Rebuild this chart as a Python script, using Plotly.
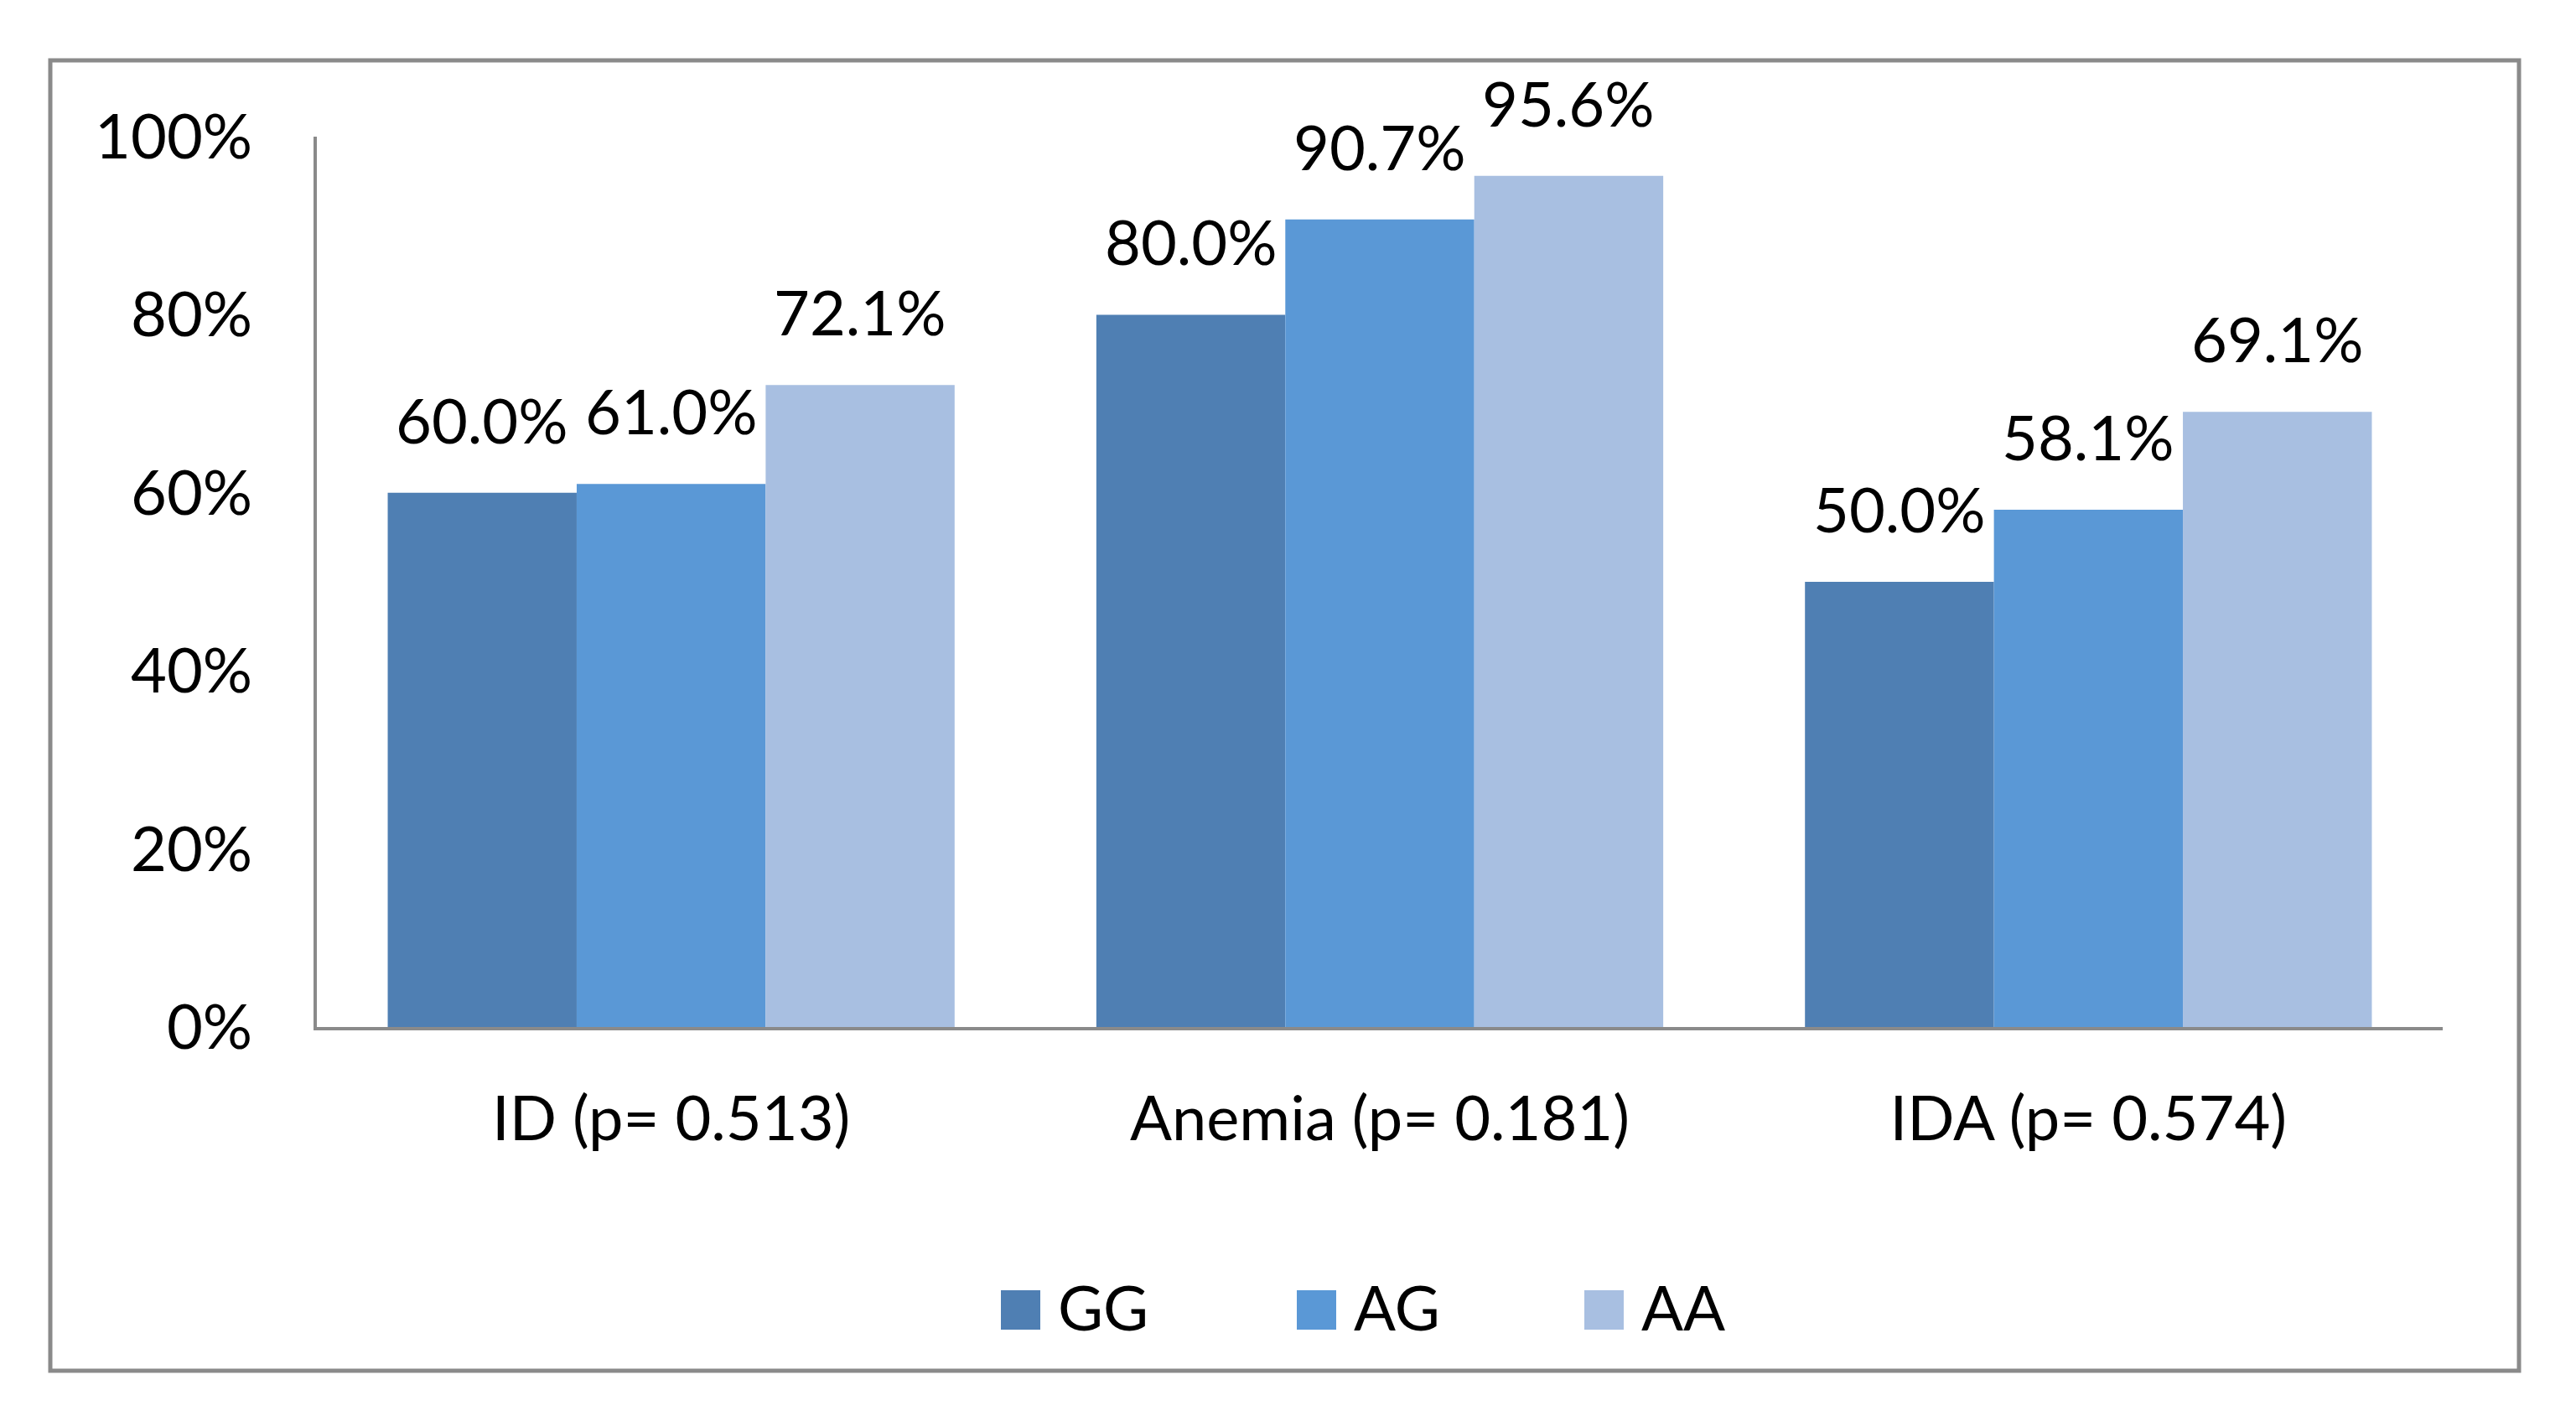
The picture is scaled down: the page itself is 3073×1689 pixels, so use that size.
import plotly.graph_objects as go

categories = ["ID (p= 0.513)", "Anemia (p= 0.181)", "IDA (p= 0.574)"]
series_names = ["GG", "AG", "AA"]
gg_values = [0.600, 0.800, 0.500]
ag_values = [0.610, 0.907, 0.581]
aa_values = [0.721, 0.956, 0.691]
y_tick_vals = [0, 0.2, 0.4, 0.6, 0.8, 1.0]
y_tick_text = ["0%", "20%", "40%", "60%", "80%", "100%"]

colors = ["#4F7FB3", "#5A98D6", "#A8BFE1"]
series_values = [gg_values, ag_values, aa_values]

W, H = 3073, 1689
ml, mr, mt, mb = 378, 159, 163, 464
pw, ph = W - ml - mr, H - mt - mb
FONT = "Lato, 'Open Sans', sans-serif"
FS = 74
bargap = 0.2

def px_x(x):
    return (x - ml) / pw

def px_y(y):
    return (H - mb - y) / ph

fig = go.Figure()
for name, vals, col in zip(series_names, series_values, colors):
    fig.add_trace(go.Bar(x=categories, y=vals, name=name, marker=dict(color=col, line=dict(width=0)),
                         showlegend=False))

# data labels
bw = (1 - bargap) / len(series_names)
annotations = []
for j, vals in enumerate(series_values):
    off = (j - (len(series_names) - 1) / 2) * bw
    for i, v in enumerate(vals):
        annotations.append(dict(x=i + off, y=v, xref="x", yref="y", text=f"{v*100:.1f}%",
                                showarrow=False, yanchor="bottom", xanchor="center", yshift=41,
                                font=dict(family=FONT, size=FS, color="#000000")))

# manual legend
legend_y0, legend_y1 = 1539, 1586
legend_sq_x = [1194, 1547, 1890]
shapes = [dict(type="rect", xref="paper", yref="paper",
               x0=px_x(60), x1=px_x(3005), y0=px_y(1635), y1=px_y(72),
               line=dict(color="#8A8A8A", width=5), fillcolor="rgba(0,0,0,0)", layer="below")]
for name, col, sx in zip(series_names, colors, legend_sq_x):
    shapes.append(dict(type="rect", xref="paper", yref="paper",
                       x0=px_x(sx), x1=px_x(sx + 47), y0=px_y(legend_y1), y1=px_y(legend_y0),
                       line=dict(width=0), fillcolor=col))
    annotations.append(dict(x=px_x(sx + 66), y=px_y((legend_y0 + legend_y1) / 2 - 4), xref="paper", yref="paper",
                            text=name, showarrow=False, xanchor="left", yanchor="middle",
                            font=dict(family=FONT, size=FS, color="#000000")))

fig.update_layout(
    width=W, height=H,
    margin=dict(l=ml, r=mr, t=mt, b=mb),
    paper_bgcolor="white", plot_bgcolor="white",
    barmode="group", bargap=bargap, bargroupgap=0,
    font=dict(family=FONT, size=FS, color="#000000"),
    annotations=annotations, shapes=shapes,
    showlegend=False,
)
fig.update_yaxes(range=[0, 1], tickvals=y_tick_vals, ticktext=y_tick_text, showgrid=False,
                 showline=True, linecolor="#8A8A8A", linewidth=4, ticks="", zeroline=False,
                 ticklabelstandoff=58, tickfont=dict(family=FONT, size=FS, color="#000000"))
fig.update_xaxes(showline=True, linecolor="#8A8A8A", linewidth=4, ticks="", showgrid=False,
                 ticklabelstandoff=42, tickfont=dict(family=FONT, size=FS, color="#000000"))

fig.write_html("out.html", config={"displayModeBar": False},
               post_script="document.body.style.margin='0';document.body.style.overflow='hidden';")
